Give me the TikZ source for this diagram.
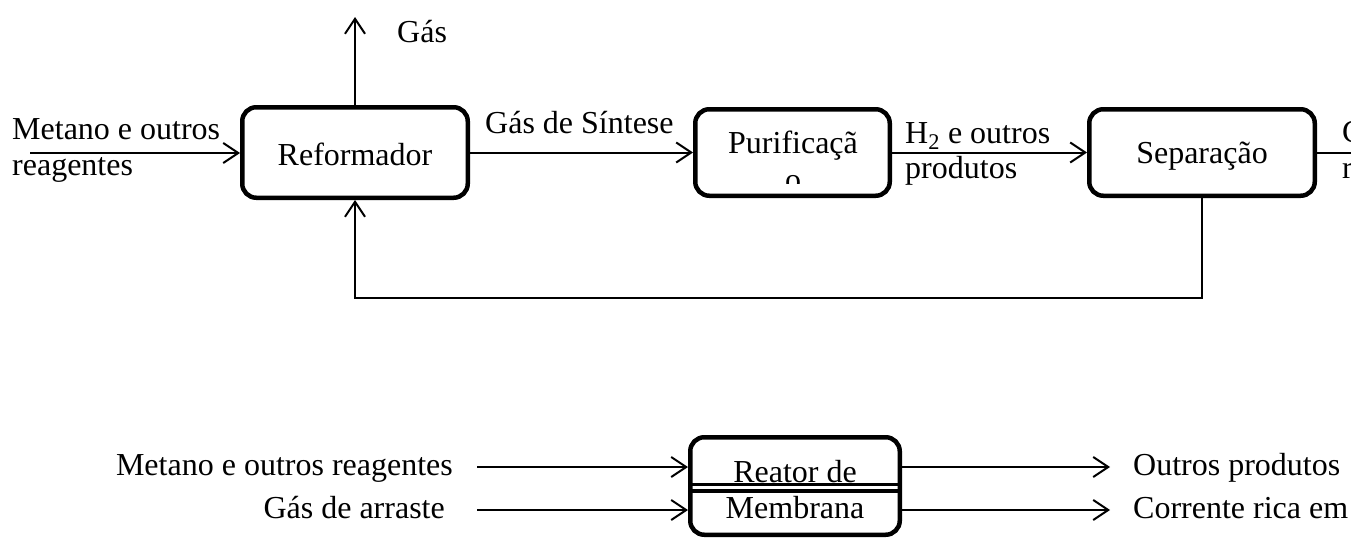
\documentclass[tikz,border=0pt]{standalone}
\usepackage{fontspec}
\setmainfont{Liberation Serif}
\usetikzlibrary{arrows.meta}
\tikzset{
  box/.style={draw, line width=4.5pt, rounded corners=14pt, inner sep=0pt},
  arr/.style={line width=2pt, -{Straight Barb[length=15pt,width=20pt,line width=2pt]}},
  plain/.style={line width=2pt},
  lbl/.style={inner sep=0pt, anchor=base west, font=\fontsize{32}{37}\selectfont},
  clbl/.style={inner sep=0pt, anchor=base, font=\fontsize{32}{37}\selectfont},
  rlbl/.style={inner sep=0pt, anchor=base east, font=\fontsize{32}{37}\selectfont},
  membr/.style={line width=3.5pt}
}
\begin{document}
\begin{tikzpicture}[x=1pt,y=-1pt]
\useasboundingbox (0,0) rectangle (1351,538);
% top process boxes
\node[box, minimum width=225.5pt, minimum height=90.5pt] (ref) at (355,152.5) {};
\node[box, minimum width=194.5pt, minimum height=86.5pt] (pur) at (792.5,152.5) {};
\node[box, minimum width=225.5pt, minimum height=86.5pt] (sep) at (1202,152.5) {};
% box texts
\node[clbl] (tref) at (355,165) {Reformador};
\node[clbl] (tpur) at (793,153) {Purificaçã};
\begin{scope}
  \clip (690,100) rectangle (895,183);
  \node[clbl] (tpur2) at (793,190) {o};
\end{scope}
\node[clbl] (tsep) at (1202,163) {Separação};
% coordinates
\coordinate (in1) at (30,153);
\coordinate (gasup) at (355,17);
\coordinate (fb) at (355,298);
\coordinate (outR) at (1360,152.5);
% connectors
\draw[arr] (in1) -- (in1 -| ref.west);
\draw[arr] (ref.north) -- (gasup);
\draw[arr] (ref.east) -- (pur.west);
\draw[arr] (pur.east) -- (sep.west);
\draw[plain] (sep.east) -- (outR);
\draw[arr] (sep.south) |- (fb) -- (ref.south);
% labels top
\node[lbl] (lgas) at (397,42) {Gás};
\node[lbl] (lmet1) at (12,139) {Metano e outros};
\node[lbl] (lmet2) at (12,175) {reagentes};
\node[lbl] (lsint) at (485,133) {Gás de Síntese};
\node[lbl] (lh2a) at (905,143) {H\textsubscript{2} e outros};
\node[lbl] (lh2b) at (905,178) {produtos};
\begin{scope}
  \clip (1320,0) rectangle (1351,538);
  \node[lbl] (lcor1) at (1342,142) {Corrente};
  \node[lbl] (lcor2) at (1342,178) {rica em H\textsubscript{2}};
\end{scope}
% bottom membrane reactor
\node[box, minimum width=209.5pt, minimum height=97.5pt] (reat) at (795,486) {};
\coordinate (ml1) at (0,484.5);
\coordinate (ml2) at (0,491);
\draw[membr] (reat.west |- ml1) -- (reat.east |- ml1);
\draw[membr] (reat.west |- ml2) -- (reat.east |- ml2);
\node[clbl] (treat1) at (795,482) {Reator de};
\node[clbl] (treat2) at (795,518) {Membrana};
\coordinate (m1) at (477,467);
\coordinate (m2) at (477,510);
\coordinate (o1) at (1110,467);
\coordinate (o2) at (1110,510);
\draw[arr] (m1) -- (m1 -| reat.west);
\draw[arr] (m2) -- (m2 -| reat.west);
\draw[arr] (m1 -| reat.east) -- (o1);
\draw[arr] (m2 -| reat.east) -- (o2);
\node[rlbl] (lbm1) at (453,475) {Metano e outros reagentes};
\node[rlbl] (lbm2) at (445,518) {Gás de arraste};
\node[lbl] (lbo1) at (1133,475) {Outros produtos};
\node[lbl] (lbo2) at (1133,518) {Corrente rica em};
\end{tikzpicture}
\end{document}
